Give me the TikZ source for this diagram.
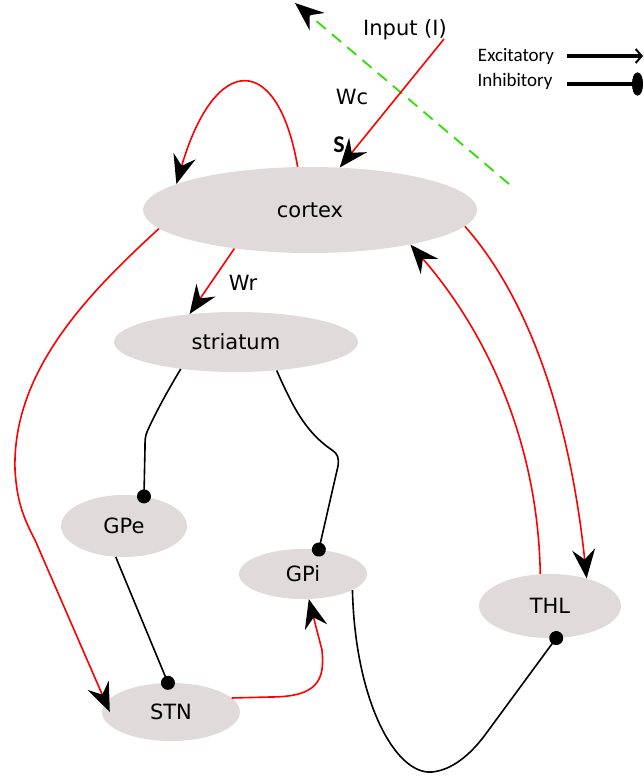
\documentclass[tikz,border=0pt]{standalone}
\usepackage{fontspec}
\setmainfont{DejaVu Sans}
\newfontfamily\calib{Carlito}
\usetikzlibrary{arrows.meta,shapes.geometric}
\definecolor{nodefill}{HTML}{E0DADA}
\definecolor{dashgreen}{HTML}{2EE000}
\tikzset{
  region/.style={ellipse, fill=nodefill, inner sep=0pt, font=\fontsize{21}{21}\selectfont},
  lbl/.style={font=\fontsize{21}{21}\selectfont, inner sep=0pt},
  bighead/.style={-{Stealth[length=29pt 0 0,width=23pt 0,inset=10pt 0,color=black]}},
  exc/.style={draw=red, line width=1.6pt, bighead},
  inh/.style={draw=black, line width=1.6pt, -{Circle[length=14pt 0 0,color=black]}, shorten >=-7pt},
  guide/.style={draw=dashgreen, line width=1.8pt, dash pattern=on 12pt off 8pt, bighead},
}
\begin{document}
\begin{tikzpicture}[x=1pt,y=-1pt]
\useasboundingbox (0,0) rectangle (643,778);
% nodes
\node[region, minimum width=334pt, minimum height=86pt] (cortex) at (310,210) {cortex};
\node[region, minimum width=244pt, minimum height=60pt] (striatum) at (236,342) {striatum};
\node[region, minimum width=126pt, minimum height=62pt] (gpe) at (124,526) {GPe};
\node[region, minimum width=128pt, minimum height=50pt] (gpi) at (303,574) {GPi};
\node[region, minimum width=138pt, minimum height=58pt] (stn) at (171,712) {STN};
\node[region, minimum width=142pt, minimum height=64pt] (thl) at (550,606) {THL};
% labels
\node[lbl] (input) at (405,30) {Input (I)};
\node[lbl] (wc) at (352,97) {Wc};
\node[lbl] (wr) at (243,283) {Wr};
\node[inner sep=0pt, font=\calib\bfseries\fontsize{24}{24}\selectfont] (s) at (339,145) {S};
% free ends
\coordinate (inStart) at (444,39);
\coordinate (gA) at (509,184);
\coordinate (gB) at (295,3);
% green dashed
\draw[guide] (gA) -- (gB);
% input
\draw[exc] (inStart) -- (cortex.55);
% cortex self loop
\draw[exc] (cortex.106) .. controls (278,52) and (215,52) .. (cortex.169);
% cortex -> striatum
\draw[exc] (cortex.207) -- (striatum.149);
% cortex -> STN
\draw[exc] (cortex.187) .. controls (90,292) and (12,370) .. (15,470)
  .. controls (17,500) and (22,515) .. (35,540) -- ([xshift=8pt]stn.west);
% striatum -> GPe
\draw[inh] (striatum.206) .. controls (165,395) and (152,420) .. (147,432)
  .. controls (145,437) and (145,440) .. (145,448) -- (gpe.56);
% striatum -> GPi
\draw[inh] (striatum.325) .. controls (292,405) and (305,432) .. (332,450)
  .. controls (338,454) and (339,458) .. (338,466) -- (gpi.57);
% GPe -> STN
\draw[inh] (gpe.255) -- (stn.96);
% STN -> GPi
\draw[exc] (stn.13) -- (270,697) .. controls (318,697) and (325,680) .. (322,650) -- (gpi.283);
% GPi -> THL
\draw[inh] (gpi.342) .. controls (355,700) and (395,775) .. (432,772)
  .. controls (452,770) and (470,755) .. (485,735) -- (thl.281);
% THL -> cortex
\draw[exc] (thl.107) .. controls (538,440) and (485,330) .. (cortex.341);
% cortex -> THL
\draw[exc] (cortex.354) .. controls (530,300) and (570,420) .. (thl.37);
% legend
\node[inner sep=0pt, font=\calib\fontsize{19}{19}\selectfont] (excl) at (516,56) {Excitatory};
\node[inner sep=0pt, font=\calib\fontsize{19}{19}\selectfont] (inhl) at (515,81) {Inhibitory};
\coordinate (e1) at (567,56);
\coordinate (e2) at (643,56);
\coordinate (i1) at (567,84);
\coordinate (i2) at (643,84);
\draw[line width=3.5pt, -{Straight Barb[length=6pt,width=14pt,line width=2pt]}] (e1) -- (e2);
\draw[line width=3.5pt, -{Ellipse[length=11pt 0 0,width=23pt 0]}] (i1) -- (i2);
\end{tikzpicture}
\end{document}
